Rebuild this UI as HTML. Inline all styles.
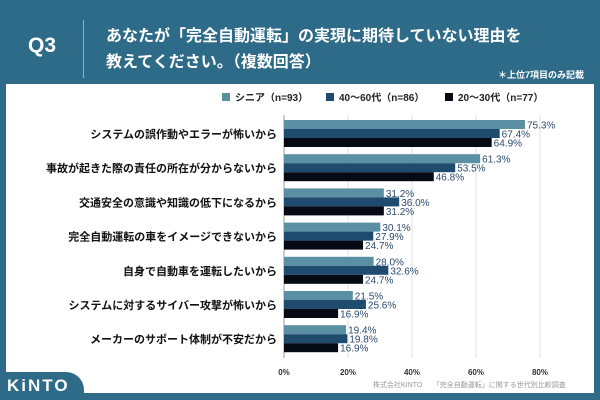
<!DOCTYPE html><html><head><meta charset="utf-8"><style>
body{margin:0;width:600px;height:400px;background:#2e6b88;position:relative;overflow:hidden;font-family:"Liberation Sans","Noto Sans CJK JP",sans-serif}
.a{position:absolute}
</style></head><body>
<div class="a" style="left:28px;top:34px;color:#fff;font-size:21px;font-weight:bold">Q3</div>
<div class="a" style="left:83px;top:20px;width:1px;height:58px;background:#8fb3c6"></div>
<div class="a" style="left:106px;top:24px;color:#fff;font-size:16px;font-weight:bold;line-height:26px">あなたが「完全自動運転」の実現に期待していない理由を<br>教えてください。（複数回答）</div>
<div class="a" style="right:16px;top:68px;color:#fff;font-size:9px;font-weight:bold">＊上位7項目のみ記載</div>
<div class="a" style="left:6px;top:84px;width:588px;height:309px;background:#fff"></div>
<div class="a" style="left:0;top:372px;width:84px;height:28px;background:#2e6b88;border-top-right-radius:18px"></div>
<div class="a" style="left:7px;top:376px;color:#fff;font-size:17px;font-weight:bold;letter-spacing:2px">KiNTO</div>
<div class="a" style="left:373px;top:380px;color:#999;font-size:7px">株式会社KINTO　　「完全自動運転」に関する世代別比較調査</div>
<svg class="a" style="left:0;top:0" width="600" height="400" font-family="Liberation Sans,Noto Sans CJK JP,sans-serif">
<g font-size="10" font-weight="bold" fill="#222">
<rect x="222" y="93" width="8" height="8" fill="#5b8fa3"/><text x="235" y="101">シニア（n=93）</text>
<rect x="326" y="93" width="8" height="8" fill="#1f4b6e"/><text x="339" y="101">40～60代（n=86）</text>
<rect x="445" y="93" width="8" height="8" fill="#050a14"/><text x="458" y="101">20～30代（n=77）</text>
</g>
<g stroke="#e2e2e2"><line x1="348" y1="115" x2="348" y2="358"/><line x1="412" y1="115" x2="412" y2="358"/><line x1="476" y1="115" x2="476" y2="358"/><line x1="540" y1="115" x2="540" y2="358"/></g>
<line x1="284" y1="115" x2="284" y2="358" stroke="#999"/>
<g font-size="8" font-weight="bold" fill="#333" text-anchor="middle"><text x="284" y="375">0%</text><text x="348" y="375">20%</text><text x="412" y="375">40%</text><text x="476" y="375">60%</text><text x="540" y="375">80%</text></g>
<g id="d"></g>
</svg>
<script>
var d=[["システムの誤作動やエラーが怖いから",75.3,67.4,64.9],["事故が起きた際の責任の所在が分からないから",61.3,53.5,46.8],["交通安全の意識や知識の低下になるから",31.2,36.0,31.2],["完全自動運転の車をイメージできないから",30.1,27.9,24.7],["自身で自動車を運転したいから",28.0,32.6,24.7],["システムに対するサイバー攻撃が怖いから",21.5,25.6,16.9],["メーカーのサポート体制が不安だから",19.4,19.8,16.9]];
var c=["#5b8fa3","#1f4b6e","#050a14"],s="";
d.forEach(function(r,i){var t=120+i*34.2;
s+='<text x="277" y="'+(t+18)+'" text-anchor="end" font-size="11" font-weight="bold" fill="#111">'+r[0]+'</text>';
for(var j=0;j<3;j++){var w=r[j+1]*3.2,y=t+j*9;
s+='<rect x="284" y="'+y+'" width="'+w+'" height="9" fill="'+c[j]+'"/>';
s+='<text x="'+(286+w)+'" y="'+(y+8.5)+'" font-size="10" fill="#2b4a6e">'+r[j+1].toFixed(1)+'%</text>';}});
document.getElementById("d").innerHTML=s;
</script>
</body></html>
